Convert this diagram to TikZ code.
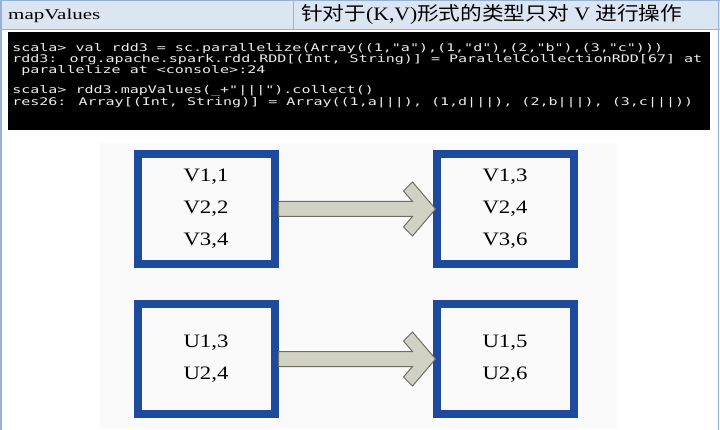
\documentclass[tikz,border=0pt]{standalone}
\usepackage{fontspec}
\setmainfont{Liberation Serif}
\newfontfamily\cjk{Noto Sans CJK SC}
\newfontfamily\term{DejaVu Sans Mono}
\usetikzlibrary{calc}
\definecolor{hdrfill}{HTML}{DCE6F2}
\definecolor{hdrline}{HTML}{95B3D7}
\definecolor{rddblue}{HTML}{1D4A9C}
\definecolor{arrfill}{HTML}{D2D2C4}
\definecolor{arrline}{HTML}{6E6E66}
\definecolor{termtxt}{HTML}{EDEDED}
\newcommand{\widen}[2][1.2]{\scalebox{#1}[1]{#2}}

\begin{document}
\begin{tikzpicture}[x=1pt,y=-1pt,
  blk/.style={draw=rddblue,line width=8pt,minimum width=137pt,minimum height=110pt,inner sep=0pt,align=center},
  vals/.style={font=\fontsize{19}{32}\selectfont},
  fat/.style={fill=arrfill,draw=arrline,line width=1pt,line join=miter},
  hdr/.style={anchor=base west,inner sep=0pt}
]
\useasboundingbox (0,0) rectangle (720,430);
% header row
\fill[hdrfill] (0,0) rectangle (720,29);
\draw[hdrline] (0,0.5) -- (720,0.5) (0,29) -- (720,29) (293,0) -- (293,29);
\draw[hdrline,line width=1.5pt] (1,0) -- (1,430) (718.5,0) -- (718.5,430);
\node[hdr,font=\fontsize{15}{15}\selectfont] (name) at (8,20) {\widen[1.4]{mapValues}};
\node[hdr,font=\fontsize{19}{19}\selectfont] (desc) at (301,21)
  {\widen[1.14]{{\cjk 针对于}(K,V){\cjk 形式的类型只对} V {\cjk 进行操作}}};

% console
\node[fill=black,minimum width=702pt,minimum height=98pt,anchor=north west,inner sep=0pt] (console) at (8,32) {};
\begin{scope}[shift={(12,43.2)},xscale=1.43]
\node[anchor=north west,inner sep=0pt,transform shape,text=termtxt,font=\term\fontsize{10.5}{9.8}\selectfont,align=left] (code) at (0,0)
  {scala> val rdd3 = sc.parallelize(Array((1,"a"),(1,"d"),(2,"b"),(3,"c")))\\
  rdd3: org.apache.spark.rdd.RDD[(Int, String)] = ParallelCollectionRDD[67] at\\
  \ parallelize at <console>:24\\
  \mbox{}\\
  scala> rdd3.mapValues(\_+"|||").collect()\\
  res26: Array[(Int, String)] = Array((1,a|||), (1,d|||), (2,b|||), (3,c|||))};
\end{scope}

% picture area
\fill[black!2] (100,143) rectangle (617,428);

% key/value boxes
\node[blk,vals] (kv1) at (206,209) {\widen{V1,1}\\\widen{V2,2}\\\widen{V3,4}};
\node[blk,vals] (kv2) at (505,209) {\widen{V1,3}\\\widen{V2,4}\\\widen{V3,6}};
\node[blk,vals] (ku1) at (206,359) {\widen{U1,3}\\\widen{U2,4}};
\node[blk,vals] (ku2) at (505,359) {\widen{U1,5}\\\widen{U2,6}};

% block arrows
\draw[fat] ($(kv1.east)+(0,-7.5)$) -- ($(kv2.west)+(-20,-7.5)$) -- ($(kv2.west)+(-29,-18)$)
  -- ($(kv2.west)+(-20,-27)$) -- ($(kv2.west)+(3,0)$) -- ($(kv2.west)+(-20,27)$)
  -- ($(kv2.west)+(-29,18)$) -- ($(kv2.west)+(-20,7.5)$) -- ($(kv1.east)+(0,7.5)$) -- cycle;
\draw[fat] ($(ku1.east)+(0,-7.5)$) -- ($(ku2.west)+(-20,-7.5)$) -- ($(ku2.west)+(-29,-18)$)
  -- ($(ku2.west)+(-20,-27)$) -- ($(ku2.west)+(3,0)$) -- ($(ku2.west)+(-20,27)$)
  -- ($(ku2.west)+(-29,18)$) -- ($(ku2.west)+(-20,7.5)$) -- ($(ku1.east)+(0,7.5)$) -- cycle;
\end{tikzpicture}
\end{document}
